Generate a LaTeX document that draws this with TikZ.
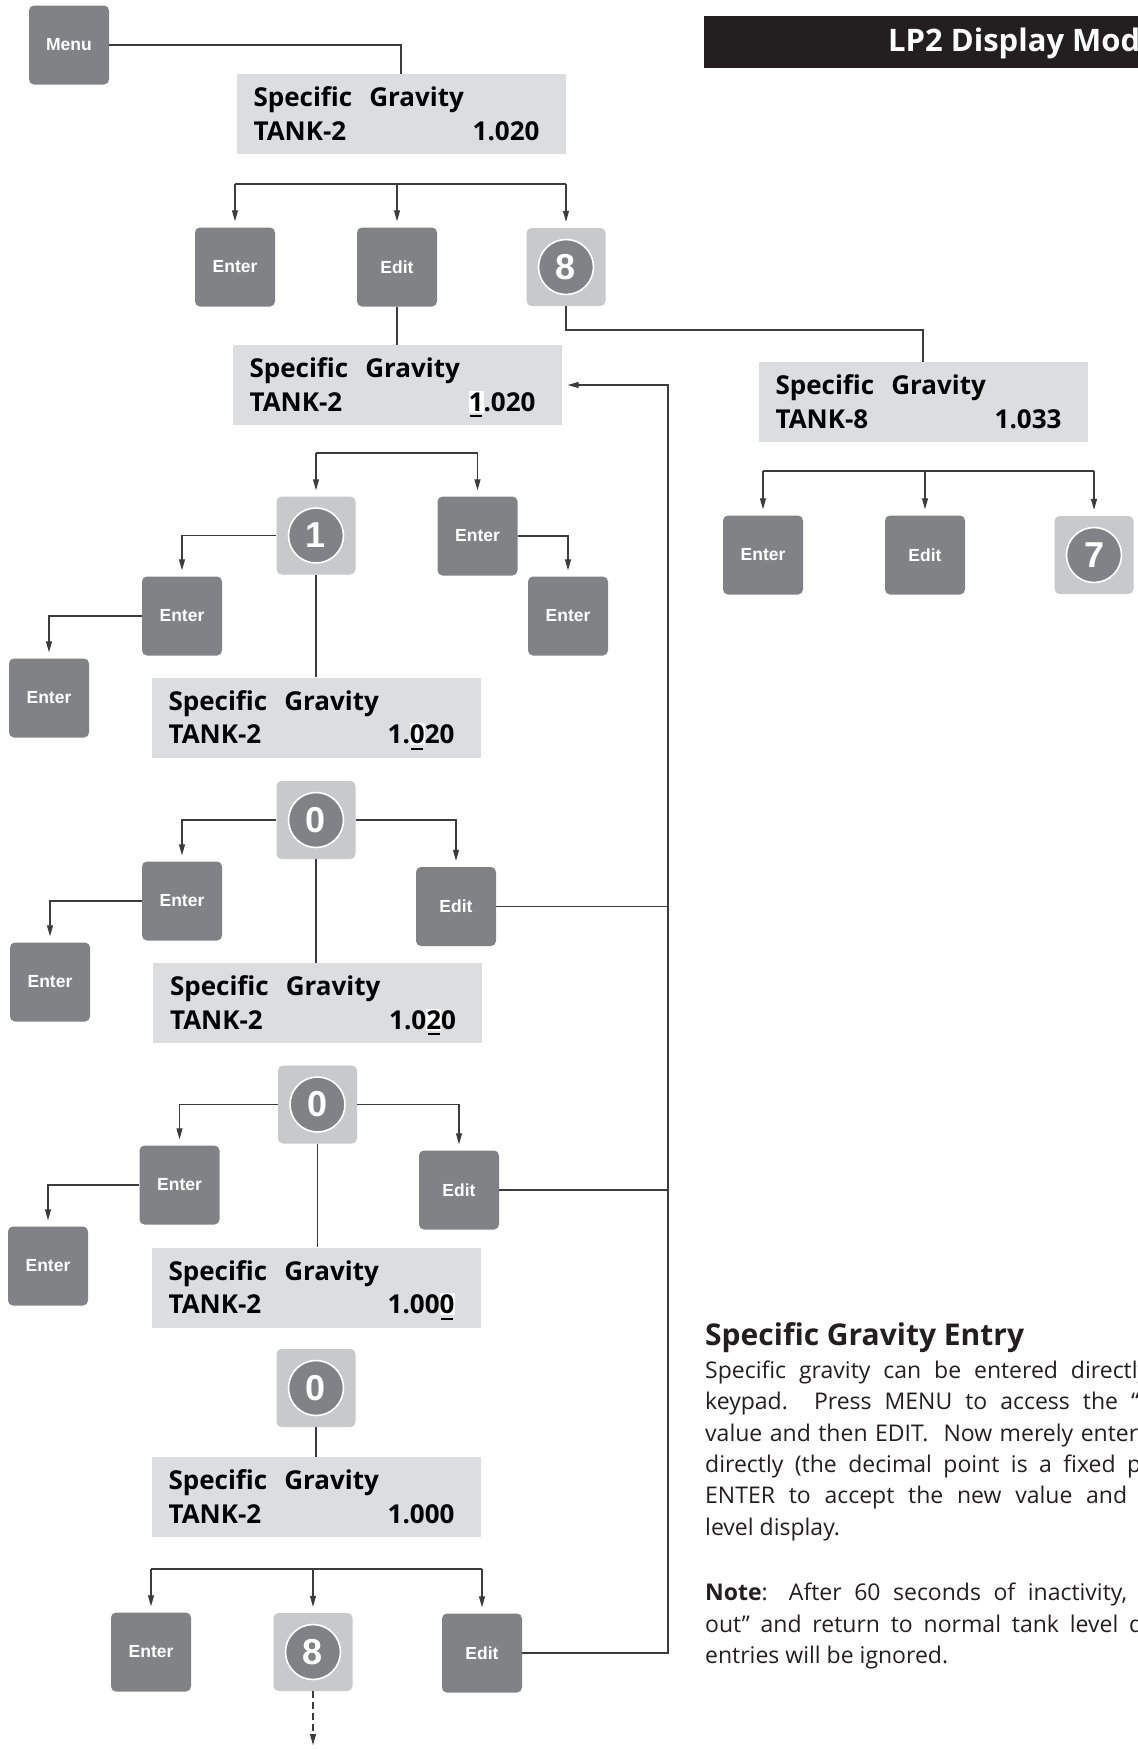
\documentclass[tikz,border=0pt]{standalone}
\usepackage{fontspec}
\setmainfont{Open Sans}
\newfontfamily\arialfont{Liberation Sans}
\usetikzlibrary{arrows.meta}
\definecolor{btngray}{HTML}{808285}
\definecolor{keygray}{HTML}{C8C9CB}
\definecolor{dispgray}{HTML}{DCDDDF}
\definecolor{linegray}{HTML}{3C3C3E}
\definecolor{inkblack}{HTML}{231F20}
\newcommand\ucur[1]{\setbox0=\hbox{#1}%
  \rlap{\textcolor{white}{\rule[-1.5pt]{\wd0}{\dimexpr\ht0+3pt\relax}}}%
  \rlap{\hspace{0.1\wd0}\rule[-6pt]{0.8\wd0}{2pt}}\box0\relax}
\newcommand\keypad[3]{%
  \node[keybox] (#1) at (#2) {};
  \node[keydisc] (#1c) at (#1.center) {#3};}
\newcommand\lcd[4]{%
  \node[disp] (#1) at (#2) {};
  \node[dtext, anchor=base west] (#1l1) at ([xshift=17pt,yshift=-33pt]#1.north west) {Specific\hspace{17pt}Gravity};
  \node[dtext, anchor=base west] (#1l2) at ([xshift=17pt,yshift=-66.5pt]#1.north west) {#3};
  \node[dtext, anchor=base east] (#1v) at ([xshift=-26pt,yshift=-66.5pt]#1.north east) {#4};}
\begin{document}
\begin{tikzpicture}[x=1pt,y=-1pt,
  btn/.style={rectangle, rounded corners=5pt, fill=btngray, minimum width=80pt, minimum height=79pt, inner sep=0pt, text=white, font=\arialfont\bfseries\fontsize{17.5}{17.5}\selectfont},
  keybox/.style={rectangle, rounded corners=5pt, fill=keygray, minimum width=79pt, minimum height=78pt, inner sep=0pt},
  keydisc/.style={circle, fill=btngray, draw=white, line width=1.6pt, minimum size=55pt, inner sep=0pt, text=white, font=\arialfont\bfseries\fontsize{36}{36}\selectfont},
  disp/.style={rectangle, fill=dispgray, minimum width=329pt, minimum height=80pt, inner sep=0pt},
  dtext/.style={inner sep=0pt, text=black, font=\bfseries\fontsize{26}{26}\selectfont},
  conn/.style={draw=linegray, line width=1.1pt},
  arr/.style={conn, -{Triangle[length=11pt,width=6pt]}, shorten >=6pt},
  body/.style={inner sep=0pt, anchor=base west, text=inkblack, font=\fontsize{23}{31}\selectfont}]
\useasboundingbox (0,0) rectangle (1138,1749);
\fill[white] (0,0) rectangle (1138,1749);

% title
\node[fill=inkblack, anchor=north west, minimum width=460pt, minimum height=52.5pt, inner sep=0pt] (titlebar) at (704,15.5) {};
\node[anchor=base west, inner sep=0pt, text=white, font=\bfseries\fontsize{31}{31}\selectfont] (titletext) at (888,51.5) {LP2 Display Mode};

% nodes
\node[btn] (menu) at (69,45) {Menu};
\lcd{dA}{401,114}{TANK-2}{1.020}
\node[btn] (enterA) at (235,267) {Enter};
\node[btn] (editA) at (397,267) {Edit};
\keypad{keyA}{566,267}{8}
\lcd{dB}{397,385}{TANK-2}{\ucur{1}.020}
\lcd{dT}{923,402}{TANK-8}{1.033}
\node[btn] (enterT) at (763,555) {Enter};
\node[btn] (editT) at (925,555) {Edit};
\keypad{keySeven}{1094,555}{7}
\keypad{keyOne}{316,535.5}{1}
\node[btn] (enterC) at (477.5,536) {Enter};
\node[btn] (enterD) at (182,616) {Enter};
\node[btn] (enterE) at (49,698) {Enter};
\node[btn] (enterF) at (568,616) {Enter};
\lcd{dC}{316,717.5}{TANK-2}{1.\ucur{0}20}
\keypad{keyZa}{316,820}{0}
\node[btn] (enterG) at (182,901) {Enter};
\node[btn] (enterH) at (50,982) {Enter};
\node[btn] (editB) at (456,906.5) {Edit};
\lcd{dD}{317.5,1003}{TANK-2}{1.0\ucur{2}0}
\keypad{keyZb}{317.5,1104.5}{0}
\node[btn] (enterI) at (179.5,1185) {Enter};
\node[btn] (enterJ) at (48,1266) {Enter};
\node[btn] (editC) at (459,1190) {Edit};
\lcd{dE}{316,1287.5}{TANK-2}{1.00\ucur{0}}
\keypad{keyZc}{316,1388}{0}
\lcd{dF}{316,1497}{TANK-2}{1.000}
\node[btn] (enterK) at (151,1652) {Enter};
\keypad{keyB}{313,1652}{8}
\node[btn] (editD) at (482,1653) {Edit};

% connectors
\draw[conn] (menu.east) -| (dA.north);
\coordinate (bA) at (401,184);
\draw[conn] (enterA |- bA) -- (keyA |- bA);
\foreach \n in {enterA,editA,keyA} \draw[arr] (\n |- bA) -- (\n.north);
\draw[conn] (editA.south) -- (editA.south |- dB.north);
\coordinate (bK) at (566,330);
\draw[conn] (keyA.south) -- (bK) -| (dT.north);
\coordinate (bT) at (923,471);
\draw[conn] (enterT |- bT) -- (keySeven |- bT);
\foreach \n in {enterT,editT,keySeven} \draw[arr] (\n |- bT) -- (\n.north);
\coordinate (bB) at (397,453);
\draw[conn] (keyOne |- bB) -- (enterC |- bB);
\foreach \n in {keyOne,enterC} \draw[arr] (\n |- bB) -- (\n.north);
\draw[arr] (keyOne.west) -| (enterD.north);
\draw[arr] (enterD.west) -| (enterE.north);
\draw[arr] (enterC.east) -| (enterF.north);
\draw[conn] (keyOne.south) -- (keyOne.south |- dC.north);
\draw[arr] (keyZa.west) -| (enterG.north);
\draw[arr] (enterG.west) -| (enterH.north);
\draw[arr] (keyZa.east) -| (editB.north);
\draw[conn] (keyZa.south) -- (keyZa.south |- dD.north);
\draw[arr] (keyZb.west) -| (enterI.north);
\draw[arr] (enterI.west) -| (enterJ.north);
\draw[arr] (keyZb.east) -| (editC.north);
\draw[conn] (keyZb.south) -- (keyZb.south |- dE.north);
\draw[conn] (keyZc.south) -- (keyZc.south |- dF.north);
\coordinate (bF) at (316,1569);
\draw[conn] (enterK |- bF) -- (editD |- bF);
\foreach \n in {enterK,keyB,editD} \draw[arr] (\n |- bF) -- (\n.north);
\coordinate (rx) at (668,385);
\draw[arr] (editD.east) -| (rx) -- (dB.east);
\draw[conn] (editB.east) -- (editB.east -| rx);
\draw[conn] (editC.east) -- (editC.east -| rx);
\coordinate (dEnd) at (313,1745);
\draw[arr, dashed, dash pattern=on 7pt off 4pt, shorten >=0pt] (keyB.south) -- (dEnd);

% text block
\node[body, font=\bfseries\fontsize{30}{30}\selectfont] (th) at (705,1345) {Specific Gravity Entry};
\node[body] (t1) at (705,1378) {\makebox[444pt][s]{Specific gravity can be entered directly}};
\node[body] (t2) at (705,1409.5) {\makebox[434pt][s]{keypad.\ \ Press MENU to access the “}};
\node[body] (t3) at (705,1441) {\makebox[433pt][s]{value and then EDIT.\ \ Now merely enter}};
\node[body] (t4) at (705,1472) {\makebox[436pt][s]{directly (the decimal point is a fixed p}};
\node[body] (t5) at (705,1503.5) {\makebox[422pt][s]{ENTER to accept the new value and}};
\node[body] (t6) at (705,1535) {level display.};
\node[body] (t8) at (705,1600) {\makebox[422pt][s]{\textbf{Note}: After 60 seconds of inactivity,}};
\node[body] (t9) at (705,1632) {\makebox[438pt][s]{out” and return to normal tank level d}};
\node[body] (t10) at (705,1663.5) {entries will be ignored.};
\end{tikzpicture}
\end{document}
